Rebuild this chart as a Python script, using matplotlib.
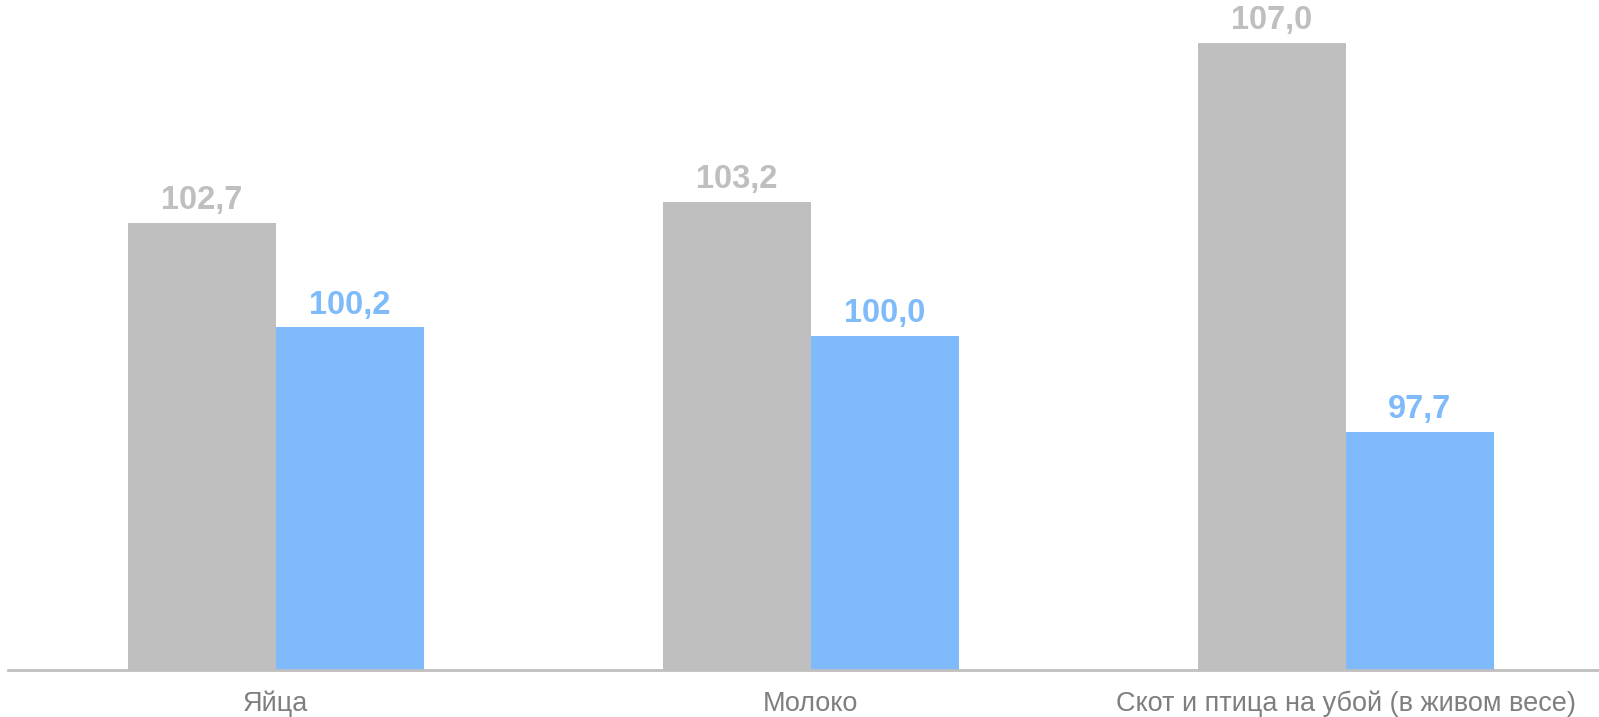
import numpy as np
import matplotlib.pyplot as plt

# Data
categories = ["Яйца", "Молоко", "Скот и птица на убой (в живом весе)"]
prev_values = [102.7, 103.2, 107.0]
curr_values = [100.2, 100.0, 97.7]

gray = "#BFBFBF"
blue = "#7FBAFB"

plt.rcParams["font.family"] = ["Liberation Sans", "DejaVu Sans"]

fig = plt.figure(figsize=(15.99, 7.17), dpi=100)
ax = fig.add_axes([8 / 1599, 47 / 717, 1605.5 / 1599, 670 / 717])

x = np.arange(len(categories))
w = 0.2766
b1 = ax.bar(x - w / 2, [v - 92 for v in prev_values], w, bottom=92, color=gray)
b2 = ax.bar(x + w / 2, [v - 92 for v in curr_values], w, bottom=92, color=blue)

for rect, v in zip(b1, prev_values):
    ax.annotate(f"{v:.1f}".replace(".", ","), (rect.get_x() + rect.get_width() / 2, v),
                xytext=(0, 5), textcoords="offset points", ha="center", va="bottom",
                fontsize=23.5, fontweight="bold", color=gray)
for rect, v in zip(b2, curr_values):
    ax.annotate(f"{v:.1f}".replace(".", ","), (rect.get_x() + rect.get_width() / 2, v),
                xytext=(0, 5), textcoords="offset points", ha="center", va="bottom",
                fontsize=23.5, fontweight="bold", color=blue)

ax.set_xlim(-0.5, 2.5)
ax.set_ylim(92, 108.04)
ax.set_xticks(x)
ax.set_xticklabels(categories, fontsize=19.5, color="#7F7F7F")
ax.tick_params(axis="x", length=0, pad=15)
ax.set_yticks([])
for s in ["top", "right", "left"]:
    ax.spines[s].set_visible(False)
ax.spines["bottom"].set_color(gray)
ax.spines["bottom"].set_linewidth(2)

fig.savefig("out.png", dpi=100)
